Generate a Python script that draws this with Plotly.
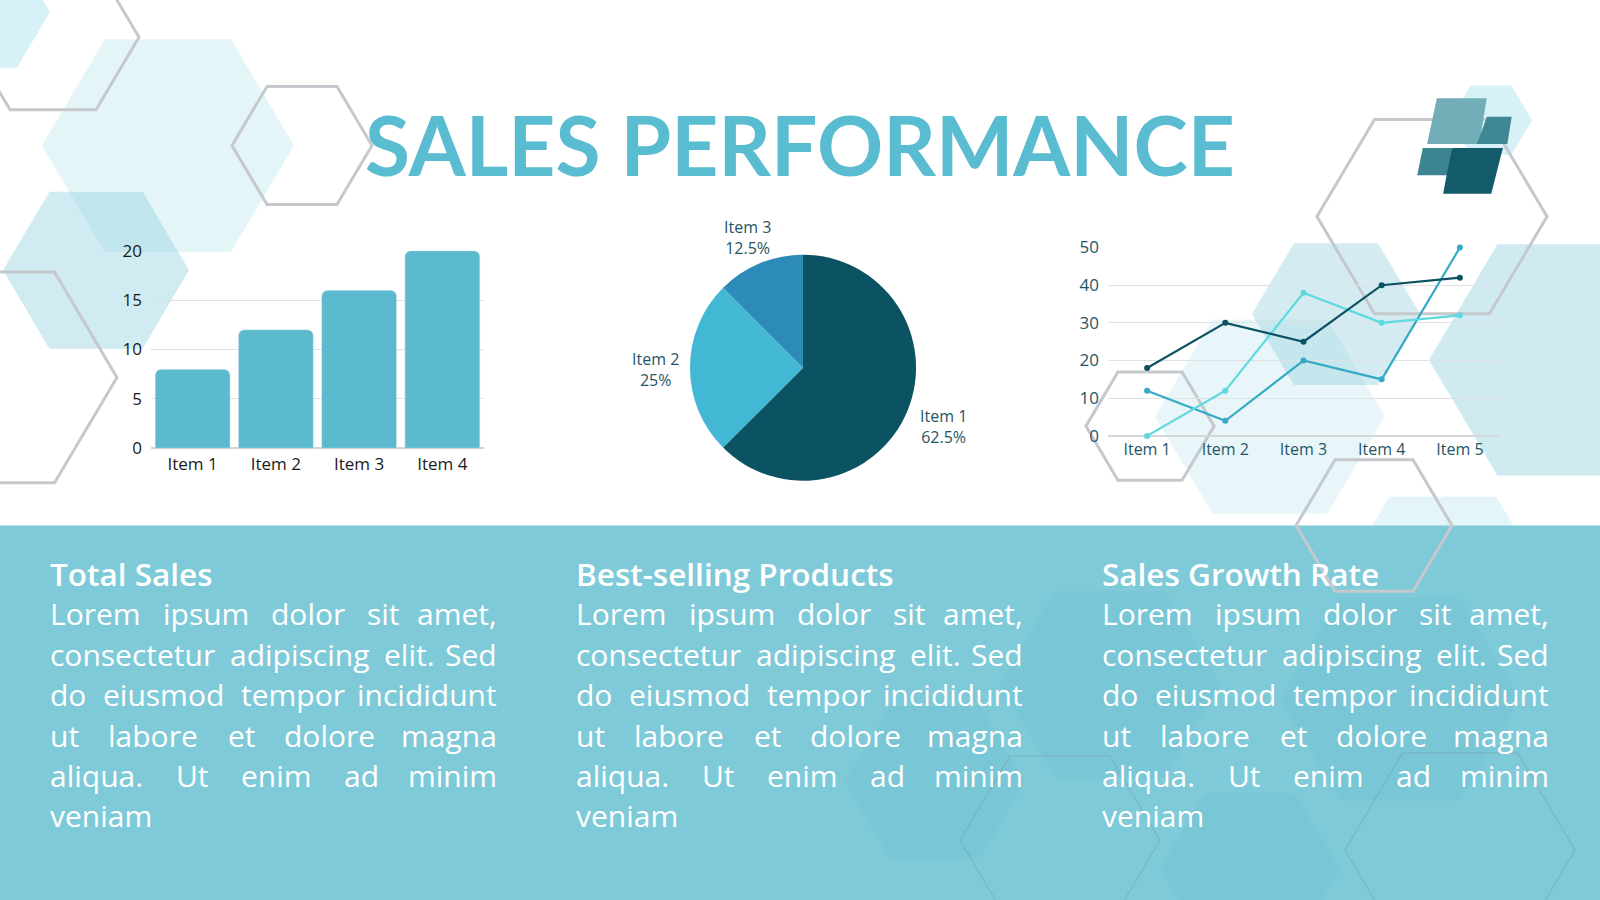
import plotly.graph_objects as go

W, H = 1600, 900

# --- data ---
bar_items = ["Item 1", "Item 2", "Item 3", "Item 4"]
bar_values = [8, 12, 16, 20]

pie_labels = ["Item 1", "Item 2", "Item 3"]
pie_values = [62.5, 25, 12.5]
pie_colors = ["#0b5263", "#42b8d5", "#2d8bba"]

line_items = ["Item 1", "Item 2", "Item 3", "Item 4", "Item 5"]
series_dark = [18, 30, 25, 40, 42]
series_cyan = [0, 12, 38, 30, 32]
series_blue = [12, 4, 20, 15, 50]

headings = ["Total Sales", "Best-selling Products", "Sales Growth Rate"]
body_lines = [
    "Lorem ipsum dolor sit amet,",
    "consectetur adipiscing elit. Sed",
    "do eiusmod tempor incididunt",
    "ut labore et dolore magna",
    "aliqua. Ut enim ad minim",
    "veniam",
]

TEAL = "#59bcd0"
BAND = "#7fcad8"
DARK_TEXT = "#1f5566"
BODY_FONT = "Open Sans"


# --- helpers ---

def px(x):
    return x / W


def py(y):
    return 1 - y / H


def hex_path(cx, cy, r):
    h = r * 0.866
    pts = [(cx + r, cy), (cx + r / 2, cy + h), (cx - r / 2, cy + h),
           (cx - r, cy), (cx - r / 2, cy - h), (cx + r / 2, cy - h)]
    return "M " + " L ".join(f"{px(x):.4f},{py(y):.4f}" for x, y in pts) + " Z"


def poly_path(pts):
    return "M " + " L ".join(f"{px(x):.4f},{py(y):.4f}" for x, y in pts) + " Z"


# rough Open Sans advance widths (em), used to justify the body text
CHAR_EM = {
    ' ': 0.26, 'a': 0.556, 'b': 0.613, 'c': 0.476, 'd': 0.613, 'e': 0.561,
    'f': 0.339, 'g': 0.548, 'h': 0.614, 'i': 0.253, 'j': 0.253, 'k': 0.525,
    'l': 0.253, 'm': 0.93, 'n': 0.614, 'o': 0.604, 'p': 0.613, 'q': 0.613,
    'r': 0.408, 's': 0.477, 't': 0.353, 'u': 0.614, 'v': 0.501, 'w': 0.778,
    'x': 0.524, 'y': 0.502, 'z': 0.47, '.': 0.266, ',': 0.244,
    'L': 0.533, 'U': 0.719, 'S': 0.544, 'D': 0.722,
}


def text_px(s, size):
    return sum(CHAR_EM.get(c, 0.56) for c in s) * size


fig = go.Figure()

# bar chart
fig.add_trace(go.Bar(
    x=bar_items, y=bar_values, marker=dict(color="#5bbacd", cornerradius=6),
    xaxis="x", yaxis="y", showlegend=False, hoverinfo="x+y",
))

# pie chart (labels are placed as annotations below so the pie keeps its full size)
fig.add_trace(go.Pie(
    labels=pie_labels, values=pie_values, sort=False, direction="clockwise", rotation=0,
    marker=dict(colors=pie_colors, line=dict(width=0)), textinfo="none",
    domain=dict(x=[px(687), px(919)], y=[py(481), py(249)]),
    showlegend=False,
))

# line chart
for vals, col in [(series_blue, "#35aac6"), (series_cyan, "#5dd9e0"), (series_dark, "#0b5263")]:
    fig.add_trace(go.Scatter(
        x=line_items, y=vals, mode="lines+markers", xaxis="x2", yaxis="y2",
        line=dict(color=col, width=2.2), marker=dict(color=col, size=6),
        cliponaxis=False, showlegend=False,
    ))

shapes = []

# background hexagons, filled
for cx, cy, r, fill in [
    (168, 137, 126, "rgba(196,232,240,0.45)"),
    (-16, 0, 66, "rgba(200,236,244,0.75)"),
    (96, 265, 93, "rgba(150,210,225,0.45)"),
    (1491, 111, 41, "rgba(200,236,244,0.75)"),
    (1270, 415, 115, "rgba(190,228,238,0.35)"),
    (1336, 310, 84, "rgba(150,207,222,0.42)"),
    (1566, 357, 137, "rgba(160,214,228,0.5)"),
    (1443, 590, 107, "rgba(200,236,244,0.5)"),
]:
    shapes.append(dict(type="path", path=hex_path(cx, cy, r), xref="paper", yref="paper",
                       fillcolor=fill, line=dict(width=0), layer="below"))

# bottom band
shapes.append(dict(type="rect", xref="paper", yref="paper", x0=0, x1=1, y0=-0.05, y1=py(527),
                   fillcolor=BAND, line=dict(width=0), layer="below"))

# hexagons inside the band
for cx, cy, r in [(1110, 690, 110), (935, 790, 90), (1400, 705, 120), (1250, 880, 90)]:
    shapes.append(dict(type="path", path=hex_path(cx, cy, r), xref="paper", yref="paper",
                       fillcolor="rgba(95,185,208,0.22)", line=dict(width=0), layer="below"))
for cx, cy, r in [(1060, 850, 100), (1460, 860, 115)]:
    shapes.append(dict(type="path", path=hex_path(cx, cy, r), xref="paper", yref="paper",
                       fillcolor="rgba(0,0,0,0)", line=dict(color="rgba(120,165,180,0.45)", width=1.5),
                       layer="below"))

# outlined hexagons
for cx, cy, r in [(53, 26, 86), (302, 137, 70), (-8, 375, 125), (1432, 210, 115),
                  (1150, 425, 64), (1374, 527, 78)]:
    shapes.append(dict(type="path", path=hex_path(cx, cy, r), xref="paper", yref="paper",
                       fillcolor="rgba(0,0,0,0)", line=dict(color="#c5c9cd", width=3),
                       layer="below"))

# logo
for pts, col in [
    ([(1438, 90), (1485, 90), (1478, 134), (1429, 134)], "#72aeb7"),
    ([(1488, 109), (1510, 109), (1506, 134), (1479, 134)], "#3f8793"),
    ([(1424, 141), (1450, 141), (1446, 166), (1419, 166)], "#3d8593"),
    ([(1453, 141), (1501, 141), (1490, 185), (1445, 185)], "#135b6a"),
]:
    shapes.append(dict(type="path", path=poly_path(pts), xref="paper", yref="paper",
                       fillcolor=col, line=dict(color=col, width=3, ), layer="above"))

annotations = [dict(
    text="SALES PERFORMANCE", x=px(800), y=py(135), xref="paper", yref="paper",
    xanchor="center", yanchor="middle", showarrow=False,
    font=dict(family="Lato", size=82, color=TEAL, weight="bold"),
)]

# pie labels
for lab, val, (lx, ly) in zip(pie_labels, pie_values,
                              [(943, 425), (655, 367), (747, 231)]):
    annotations.append(dict(
        text=f"{lab}<br>{val / sum(pie_values) * 100:g}%", x=px(lx), y=py(ly),
        xref="paper", yref="paper", xanchor="center", yanchor="middle", showarrow=False,
        font=dict(family=BODY_FONT, size=16, color=DARK_TEXT),
    ))

# text columns
col_left = [48, 574, 1100]
col_width = 451
fs = 30
for x0, head in zip(col_left, headings):
    annotations.append(dict(
        text=head, x=px(x0), y=py(576), xref="paper", yref="paper",
        xanchor="left", yanchor="middle", showarrow=False,
        font=dict(family=BODY_FONT, size=31.5, color="white", weight=600),
    ))
    for i, line in enumerate(body_lines):
        y = py(617.5 + i * 41.5)
        words = line.split()
        if i == len(body_lines) - 1 or len(words) == 1:
            annotations.append(dict(
                text=line, x=px(x0), y=y, xref="paper", yref="paper",
                xanchor="left", yanchor="middle", showarrow=False,
                font=dict(family=BODY_FONT, size=fs, color="white"),
            ))
            continue
        widths = [text_px(w, fs) for w in words]
        gap = (col_width - sum(widths)) / (len(words) - 1)
        xc = x0
        for j, (w, wd) in enumerate(zip(words, widths)):
            last = j == len(words) - 1
            annotations.append(dict(
                text=w, x=px(x0 + col_width if last else xc), y=y, xref="paper", yref="paper",
                xanchor="right" if last else "left", yanchor="middle", showarrow=False,
                font=dict(family=BODY_FONT, size=fs, color="white"),
            ))
            xc += wd + gap

fig.update_layout(
    autosize=True, margin=dict(l=0, r=0, t=0, b=0),
    paper_bgcolor="white", plot_bgcolor="rgba(0,0,0,0)",
    font=dict(family=BODY_FONT),
    bargap=0.1,
    shapes=shapes, annotations=annotations,
    xaxis=dict(domain=[px(151), px(484)], showgrid=False, showline=False, ticks="",
               tickfont=dict(size=17, color="#1a1a1a"), ticklabelstandoff=4, fixedrange=True),
    yaxis=dict(domain=[py(447.7), py(245)], range=[0, 20], dtick=5, showgrid=True,
               gridcolor="#dfe2e5", gridwidth=1, zeroline=True, zerolinecolor="#cfd3d6",
               ticks="", tickfont=dict(size=17, color="#1a1a1a"), ticklabelstandoff=8,
               fixedrange=True),
    xaxis2=dict(domain=[px(1108), px(1499)], anchor="y2", range=[-0.5, 4.5], showgrid=False,
                showline=False, ticks="", tickfont=dict(size=16, color=DARK_TEXT),
                ticklabelstandoff=2, fixedrange=True),
    yaxis2=dict(domain=[py(435), py(241.7)], anchor="x2", range=[0, 50], dtick=10,
                showgrid=True, gridcolor="#dfe2e5", gridwidth=1, zeroline=True,
                zerolinecolor="#d3d7da", ticks="", tickfont=dict(size=17, color=DARK_TEXT),
                ticklabelstandoff=8, fixedrange=True),
)

# pin the figure to the top-left corner and let it fill the browser window
post = """
document.documentElement.style.margin = '0';
document.body.style.margin = '0';
document.body.style.overflow = 'hidden';
document.body.style.background = '%s';
var gd = document.getElementById('{plot_id}');
gd.style.position = 'fixed';
gd.style.top = '0';
gd.style.left = '0';
gd.style.width = '100vw';
gd.style.height = '100vh';
Plotly.Plots.resize(gd);
""" % BAND

fig.write_html("out.html", config={"displayModeBar": False, "responsive": True},
               default_width="100vw", default_height="100vh", post_script=post)
